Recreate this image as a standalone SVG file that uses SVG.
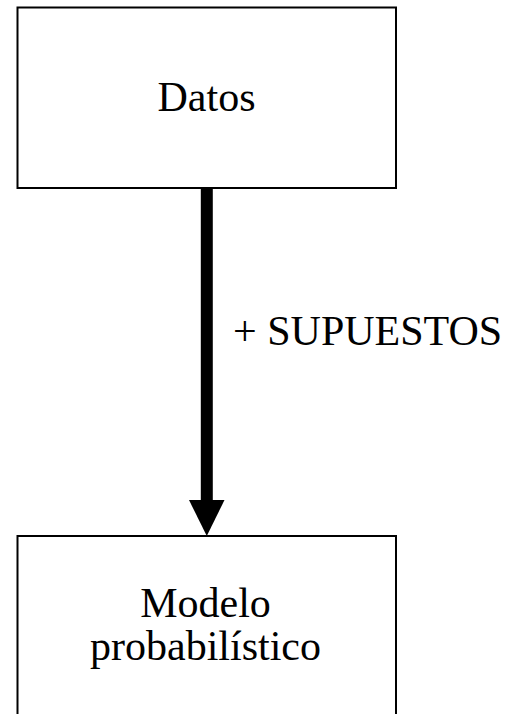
<svg xmlns="http://www.w3.org/2000/svg" width="516" height="714" viewBox="0 0 516 714">
  <style>
    .box { fill: #ffffff; stroke: #000000; stroke-width: 2; }
    .label { font-family: "Liberation Serif", "Times New Roman", serif; font-size: 42px; fill: #000000; }
    .shaft { stroke: #000000; stroke-width: 12; fill: none; }
    .head { fill: #000000; }
  </style>
  <rect width="516" height="714" fill="#ffffff"/>

  <g id="node-datos">
    <rect class="box" x="17.5" y="7.5" width="378.5" height="180.5"/>
    <text class="label" x="206.5" y="111" text-anchor="middle">Datos</text>
  </g>

  <g id="node-modelo">
    <rect class="box" x="17.5" y="536" width="378.5" height="190"/>
    <text class="label" x="205.5" y="617" text-anchor="middle">Modelo</text>
    <text class="label" x="205.5" y="660" text-anchor="middle">probabilístico</text>
  </g>

  <g id="connectors">
    <line class="shaft" x1="206.8" y1="188" x2="206.8" y2="502"/>
    <polygon class="head" points="189,500 224.5,500 206.8,536"/>
    <text class="label" x="233" y="345">+ SUPUESTOS</text>
  </g>
</svg>
